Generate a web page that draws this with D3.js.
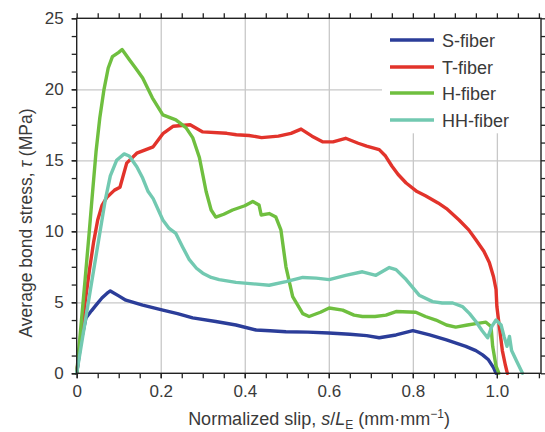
<!DOCTYPE html>
<html>
<head>
<meta charset="utf-8">
<script src="https://d3js.org/d3.v7.min.js"></script>
<style>
  body { margin: 0; background: #fff; }
  svg { font-family: "Liberation Sans", Arial, sans-serif; }
  .grid line { stroke: #c8c8c8; stroke-width: 1.3px; }
  .axis path { display: none; }
  .axis line { stroke: #222; stroke-width: 1.3px; }
  .axis text { font-size: 17px; fill: #3a3a3a; }
  .curve { fill: none; stroke-width: 3.4px; stroke-linejoin: round; stroke-linecap: round; }
</style>
</head>
<body>
<script>
// values: [normalized slip, bond stress MPa]
var sFiber = [[0,0],[0.01,2.2],[0.022,3.9],[0.035,4.4],[0.046,4.8],[0.06,5.3],[0.075,5.7],[0.08,5.8],[0.1,5.45],
  [0.117,5.15],[0.157,4.8],[0.205,4.45],[0.24,4.2],[0.276,3.9],[0.331,3.65],[0.379,3.4],[0.427,3.05],[0.46,3.0],
  [0.498,2.93],[0.55,2.9],[0.6,2.84],[0.65,2.75],[0.69,2.65],[0.72,2.5],[0.76,2.7],[0.8,3.0],[0.84,2.7],
  [0.88,2.35],[0.926,1.9],[0.95,1.6],[0.966,1.3],[0.98,0.95],[0.992,0.4],[0.998,0]];
var tFiber = [[0,0],[0.01,2.6],[0.02,5.0],[0.03,7.2],[0.04,9.2],[0.05,10.8],[0.06,11.8],[0.072,12.4],[0.09,12.9],
  [0.103,13.1],[0.119,14.8],[0.143,15.5],[0.182,15.95],[0.206,16.9],[0.23,17.4],[0.27,17.5],[0.3,17.0],[0.357,16.9],
  [0.38,16.8],[0.41,16.75],[0.44,16.6],[0.48,16.7],[0.51,16.9],[0.534,17.2],[0.56,16.7],[0.585,16.3],[0.61,16.3],
  [0.64,16.55],[0.67,16.2],[0.69,16.0],[0.72,15.75],[0.735,15.3],[0.75,14.6],[0.765,14.0],[0.784,13.4],[0.81,12.8],
  [0.83,12.5],[0.86,12.0],[0.88,11.6],[0.91,10.8],[0.933,10.1],[0.95,9.4],[0.969,8.6],[0.982,7.8],[0.992,6.8],
  [0.998,5.9],[1.0,4.7],[1.005,3.5],[1.013,1.6],[1.02,0.6],[1.025,0]];
var hFiber = [[0,0],[0.01,3.3],[0.02,6.6],[0.03,10.0],[0.037,12.5],[0.046,15.6],[0.055,18.0],[0.065,20.0],
  [0.075,21.5],[0.085,22.3],[0.1,22.6],[0.108,22.8],[0.125,22.1],[0.14,21.5],[0.157,20.8],[0.18,19.4],[0.205,18.2],
  [0.236,17.85],[0.26,17.3],[0.276,16.6],[0.292,15.2],[0.308,12.8],[0.32,11.5],[0.331,11.0],[0.35,11.2],[0.371,11.5],
  [0.4,11.8],[0.419,12.1],[0.434,11.85],[0.439,11.15],[0.458,11.25],[0.474,11.0],[0.486,10.1],[0.498,7.5],[0.514,5.4],
  [0.538,4.2],[0.553,4.0],[0.58,4.3],[0.601,4.6],[0.633,4.45],[0.66,4.1],[0.68,4.0],[0.71,4.0],[0.736,4.1],[0.76,4.35],
  [0.807,4.3],[0.83,4.0],[0.855,3.75],[0.88,3.4],[0.902,3.25],[0.93,3.4],[0.95,3.5],[0.974,3.6],[0.986,3.3],[0.99,1.9],
  [0.998,0.5],[1.005,0]];
var hhFiber = [[0,0],[0.035,6.3],[0.068,12.2],[0.08,13.9],[0.095,15.0],[0.113,15.45],[0.125,15.3],[0.143,14.55],
  [0.157,13.75],[0.17,12.8],[0.182,12.3],[0.205,10.8],[0.22,10.2],[0.236,9.85],[0.252,8.9],[0.268,8.0],[0.285,7.4],
  [0.3,7.05],[0.32,6.75],[0.339,6.6],[0.379,6.4],[0.42,6.3],[0.458,6.2],[0.498,6.45],[0.538,6.75],[0.57,6.7],
  [0.601,6.6],[0.64,6.9],[0.68,7.15],[0.712,6.9],[0.744,7.45],[0.76,7.3],[0.784,6.6],[0.815,5.5],[0.847,5.05],
  [0.87,4.95],[0.895,4.95],[0.918,4.7],[0.935,4.2],[0.95,3.65],[0.965,3.0],[0.978,2.5],[0.988,3.3],[0.998,3.75],
  [1.01,3.4],[1.017,2.6],[1.024,1.9],[1.03,2.6],[1.035,1.6],[1.048,0.8],[1.061,0]];

var seriesNames = ["S-fiber", "T-fiber", "H-fiber", "HH-fiber"];
var seriesColors = ["#2b3d99", "#e2332b", "#6fbf3f", "#72c9b1"];
var seriesData = [sFiber, tFiber, hFiber, hhFiber];

var xMajor = [0, 0.2, 0.4, 0.6, 0.8, 1.0];
var yMajor = [0, 5, 10, 15, 20, 25];
var xMinor = d3.range(0, 1.1001, 0.05);
var yMinor = d3.range(0, 25.001, 1.25);

var W = 545, H = 432;
var plotL = 76.7, plotR = 541, plotT = 18.3, plotB = 373.3;

var x = d3.scaleLinear().domain([0, 1.105]).range([plotL, plotR]);
var y = d3.scaleLinear().domain([0, 25]).range([plotB, plotT]);

var svg = d3.select("body").append("svg").attr("width", W).attr("height", H);

// gridlines
svg.append("g").attr("class", "grid")
  .attr("transform", "translate(0," + plotB + ")")
  .call(d3.axisBottom(x).tickValues(xMajor.slice(1)).tickSize(-(plotB - plotT)).tickFormat(""))
  .select(".domain").remove();
svg.append("g").attr("class", "grid")
  .attr("transform", "translate(" + plotL + ",0)")
  .call(d3.axisLeft(y).tickValues(yMajor.slice(1, 5)).tickSize(-(plotR - plotL)).tickFormat(""))
  .select(".domain").remove();

// legend background hides the grid behind it
var legX = 382, legY = plotT + 1, legW = plotR - 382 - 1, legH = 114;
svg.append("rect").attr("x", legX).attr("y", legY).attr("width", legW).attr("height", legH).attr("fill", "#fff");

// curves
var line = d3.line().x(d => x(d[0])).y(d => y(d[1]));
seriesData.forEach((data, i) => {
  svg.append("path").datum(data).attr("class", "curve")
    .attr("stroke", seriesColors[i]).attr("d", line);
});

// frame
svg.append("rect").attr("x", plotL).attr("y", plotT)
  .attr("width", plotR - plotL).attr("height", plotB - plotT)
  .attr("fill", "none").attr("stroke", "#222").attr("stroke-width", 1.4);

function fmtX(d) { return d === 0 ? "0" : d3.format(".1f")(d); }

// axes: minor ticks outward on every side, labels on bottom and left
svg.append("g").attr("class", "axis").attr("transform", "translate(0," + plotB + ")")
  .call(d3.axisBottom(x).tickValues(xMinor).tickSize(5).tickFormat(""));
svg.append("g").attr("class", "axis").attr("transform", "translate(0," + plotB + ")")
  .call(d3.axisBottom(x).tickValues(xMajor).tickSize(5).tickPadding(7).tickFormat(fmtX));
svg.append("g").attr("class", "axis").attr("transform", "translate(0," + plotT + ")")
  .call(d3.axisTop(x).tickValues(xMinor).tickSize(5).tickFormat(""));
svg.append("g").attr("class", "axis").attr("transform", "translate(" + plotL + ",0)")
  .call(d3.axisLeft(y).tickValues(yMinor).tickSize(5).tickFormat(""));
svg.append("g").attr("class", "axis").attr("transform", "translate(" + plotL + ",0)")
  .call(d3.axisLeft(y).tickValues(yMajor).tickSize(5).tickPadding(8).tickFormat(d3.format("d")));
svg.append("g").attr("class", "axis").attr("transform", "translate(" + plotR + ",0)")
  .call(d3.axisRight(y).tickValues(yMinor).tickSize(5).tickFormat(""));

// axis titles
var yt = svg.append("text").attr("transform", "rotate(-90)")
  .attr("x", -223).attr("y", 32).attr("text-anchor", "middle")
  .style("font-size", "17.5px").style("fill", "#3a3a3a");
yt.append("tspan").text("Average bond stress, ");
yt.append("tspan").style("font-style", "italic").text("\u03c4");
yt.append("tspan").text(" (MPa)");

var xt = svg.append("text").attr("x", 319).attr("y", 425).attr("text-anchor", "middle")
  .style("font-size", "18px").style("fill", "#3a3a3a");
xt.append("tspan").text("Normalized slip, ");
xt.append("tspan").style("font-style", "italic").text("s");
xt.append("tspan").text("/");
xt.append("tspan").style("font-style", "italic").text("L");
xt.append("tspan").attr("dy", 4).style("font-size", "12px").text("E");
xt.append("tspan").attr("dy", -4).text(" (mm\u00b7mm");
xt.append("tspan").attr("dy", -7).style("font-size", "12px").text("\u22121");
xt.append("tspan").attr("dy", 7).text(")");

// legend
var rowY = [40, 67, 93, 120];
var leg = svg.append("g");
seriesNames.forEach((name, i) => {
  leg.append("line").attr("x1", 390).attr("x2", 434).attr("y1", rowY[i]).attr("y2", rowY[i])
    .attr("stroke", seriesColors[i]).attr("stroke-width", 3.4);
  leg.append("text").attr("x", 442).attr("y", rowY[i] + 6.5)
    .style("font-size", "18px").style("fill", "#3a3a3a").text(name);
});
</script>
</body>
</html>
